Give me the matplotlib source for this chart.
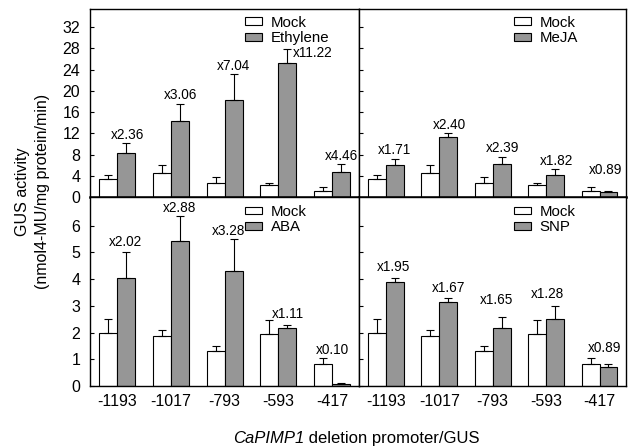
import numpy as np
import matplotlib
matplotlib.use('Agg')
import matplotlib.pyplot as plt

plt.rcParams['font.family'] = ['Liberation Sans', 'DejaVu Sans']

promoters = ['-1193', '-1017', '-793', '-593', '-417']

# top panels (Ethylene / MeJA)
mock_top = [3.5, 4.63, 2.57, 2.19, 1.06]
mock_top_err = [0.57, 1.32, 1.13, 0.5, 0.88]
eth = [8.27, 14.34, 18.28, 25.3, 4.82]
eth_err = [1.83, 3.13, 4.92, 2.6, 1.48]
eth_lbl = ['x2.36', 'x3.06', 'x7.04', 'x11.22', 'x4.46']
meja = [6.0, 11.33, 6.2, 4.13, 0.88]
meja_err = [1.26, 0.67, 1.44, 1.13, 0.25]
meja_lbl = ['x1.71', 'x2.40', 'x2.39', 'x1.82', 'x0.89']

# bottom panels (ABA / SNP)
mock_bot = [1.99, 1.86, 1.31, 1.96, 0.81]
mock_bot_err = [0.5, 0.24, 0.2, 0.5, 0.23]
aba = [4.03, 5.41, 4.31, 2.16, 0.075]
aba_err = [0.98, 0.95, 1.2, 0.14, 0.025]
aba_lbl = ['x2.02', 'x2.88', 'x3.28', 'x1.11', 'x0.10']
snp = [3.89, 3.13, 2.16, 2.51, 0.73]
snp_err = [0.17, 0.16, 0.42, 0.48, 0.11]
snp_lbl = ['x1.95', 'x1.67', 'x1.65', 'x1.28', 'x0.89']

fig = plt.figure(figsize=(6.3, 4.46), dpi=100)
L, M, R = 0.143, 0.570, 0.994
T, H, B = 0.980, 0.558, 0.1345
ax_tl = fig.add_axes([L, H, M - L, T - H])
ax_tr = fig.add_axes([M, H, R - M, T - H])
ax_bl = fig.add_axes([L, B, M - L, H - B])
ax_br = fig.add_axes([M, B, R - M, H - B])

x = np.arange(len(promoters))
w = 0.335


def panel(ax, mock, mock_e, trt, trt_e, labels, name, ylim, yticks,
          lbl_dx, lbl_dy, show_y, show_x, leg_anchor):
    ax.bar(x - w / 2, mock, w, color='white', edgecolor='black', linewidth=0.8,
           label='Mock', zorder=2)
    ax.bar(x + w / 2, trt, w, color='#969696', edgecolor='black', linewidth=0.8,
           label=name, zorder=2)
    ax.errorbar(x - w / 2, mock, yerr=[np.zeros(5), mock_e], fmt='none',
                ecolor='black', elinewidth=0.8, capsize=3, capthick=0.8, zorder=3)
    ax.errorbar(x + w / 2, trt, yerr=[np.zeros(5), trt_e], fmt='none',
                ecolor='black', elinewidth=0.8, capsize=3, capthick=0.8, zorder=3)
    # fold-change labels sit just above the treatment error bar
    for i in range(5):
        top = trt[i] + trt_e[i]
        ax.text(x[i] + w / 2 + lbl_dx[i], top + lbl_dy[i], labels[i],
                ha='center', va='bottom', fontsize=9.8)
    ax.set_xlim(-0.5, 4.5)
    ax.set_ylim(*ylim)
    ax.set_yticks(yticks)
    ax.tick_params(axis='y', direction='in', length=3, labelsize=11.5,
                   labelleft=show_y, pad=7)
    ax.tick_params(axis='x', length=0, labelsize=11.5, pad=6)
    ax.set_xticks(x)
    if show_x:
        ax.set_xticklabels(promoters)
    else:
        ax.set_xticklabels([])
    for s in ax.spines.values():
        s.set_linewidth(1.0)
    ax.legend(loc='upper left', bbox_to_anchor=leg_anchor, frameon=False,
              fontsize=10.8, handlelength=1.15, handleheight=0.4,
              handletextpad=0.55, labelspacing=0.12, borderaxespad=0,
              borderpad=0)


top_lim = (0, 35.4)
top_ticks = np.arange(0, 33, 4)
bot_lim = (0, 7.07)
bot_ticks = np.arange(0, 7, 1)

panel(ax_tl, mock_top, mock_top_err, eth, eth_err, eth_lbl, 'Ethylene',
      top_lim, top_ticks,
      [0.03, 0.02, 0, 0.46, 0], [0.3, 0.5, 0.1, -2.2, 0.1],
      True, False, (0.576, 0.965))
panel(ax_tr, mock_top, mock_top_err, meja, meja_err, meja_lbl, 'MeJA',
      top_lim, top_ticks,
      [-0.01, 0.03, 0.02, 0.02, -0.05], [0.33, 0.3, 0.27, 0.25, 2.6],
      False, False, (0.58, 0.965))
panel(ax_bl, mock_bot, mock_bot_err, aba, aba_err, aba_lbl, 'ABA',
      bot_lim, bot_ticks,
      [-0.02, 0, -0.1, 0, -0.17], [0.1, 0.03, 0.02, 0.12, 0.97],
      True, True, (0.576, 0.96))
panel(ax_br, mock_bot, mock_bot_err, snp, snp_err, snp_lbl, 'SNP',
      bot_lim, bot_ticks,
      [-0.03, 0, -0.09, -0.15, -0.08], [0.12, 0.11, 0.36, 0.18, 0.31],
      False, True, (0.58, 0.96))

# thicker divider between top and bottom rows
ax_tl.spines['bottom'].set_linewidth(1.8)
ax_tr.spines['bottom'].set_linewidth(1.8)

fig.text(0.052, 0.57, 'GUS activity\n(nmol4-MU/mg protein/min)', rotation=90,
         ha='center', va='center', fontsize=11.5, linespacing=1.4)
t1 = fig.text(0.37, 0.016, 'CaPIMP1', style='italic',
              ha='left', va='center', fontsize=12)
fig.add_artist(plt.Annotation(' deletion promoter/GUS', xy=(1, 0),
                              xycoords=t1, ha='left', va='bottom',
                              fontsize=12))

plt.savefig('out.png', dpi=100)
